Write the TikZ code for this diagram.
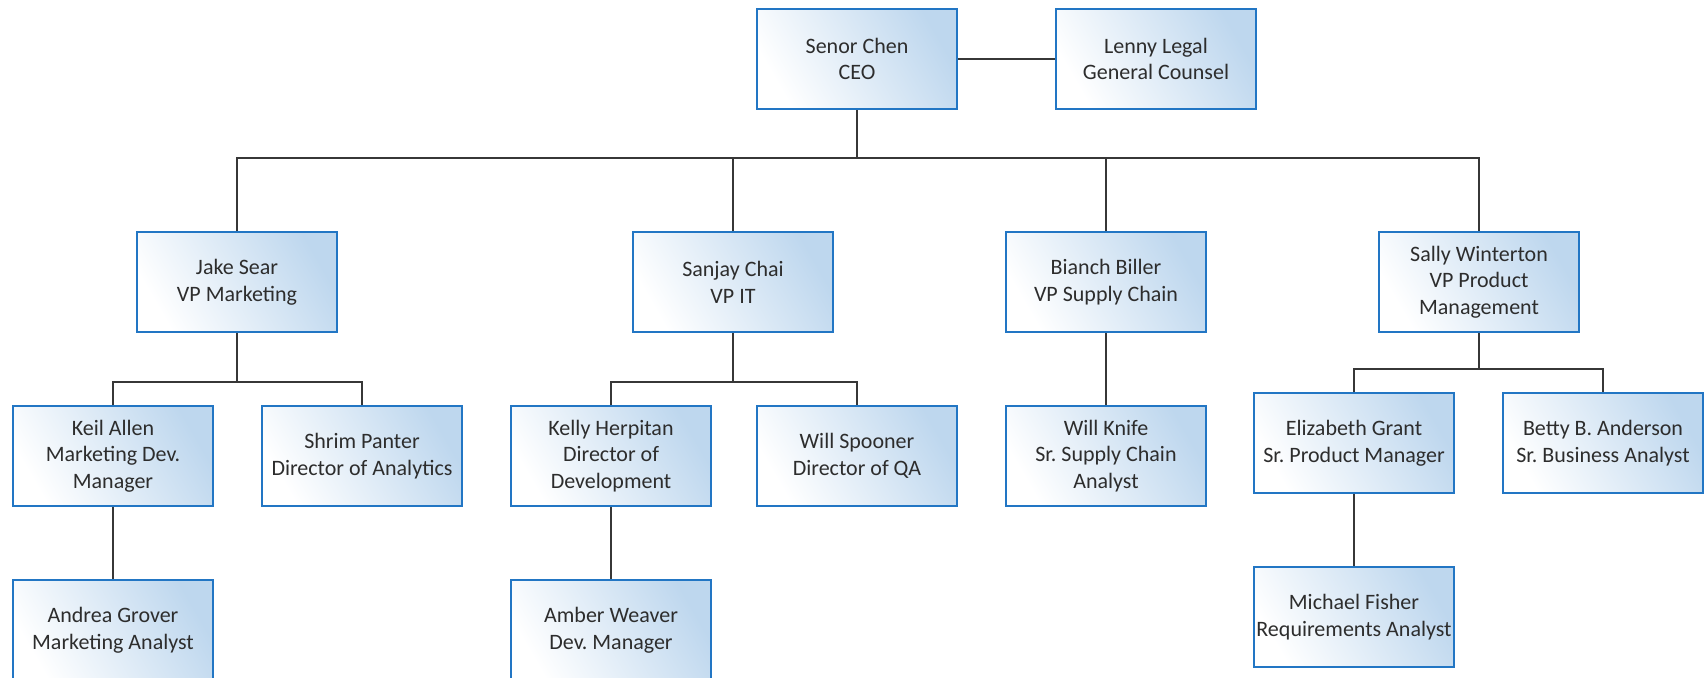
\documentclass[tikz,border=0pt]{standalone}
\usepackage{fontspec}
\setmainfont{Carlito}
\frenchspacing
\definecolor{boxline}{RGB}{34,118,196}
\definecolor{boxtint}{RGB}{190,215,238}
\definecolor{linkgray}{RGB}{55,55,55}
\definecolor{textgray}{RGB}{45,45,45}
\begin{document}
\begin{tikzpicture}[x=0.5pt,y=-0.5pt,
  staff/.style={draw=boxline,line width=1pt,bottom color=white,top color=boxtint,
    shading angle=-60,minimum width=100pt,minimum height=50pt,inner xsep=1pt,
    align=center,text=textgray,font=\fontsize{11}{13.35}\selectfont},
  link/.style={draw=linkgray,line width=0.8pt}]
\useasboundingbox (0,0) rectangle (1708,677);
\clip (0,0) rectangle (1708,677);
% top
\node[staff] (ceo) at (857,59) {Senor Chen\\CEO};
\node[staff] (legal) at (1156,59) {Lenny Legal\\General Counsel};
% vice presidents
\node[staff] (jake) at (237,282) {Jake Sear\\VP Marketing};
\node[staff] (sanjay) at (733,282) {Sanjay Chai\\VP IT};
\node[staff] (bianch) at (1106,282) {Bianch Biller\\VP Supply Chain};
\node[staff] (sally) at (1479,282) {Sally Winterton\\VP Product\\Management};
% third level
\node[staff] (keil) at (113,456) {Keil Allen\\Marketing Dev.\\Manager};
\node[staff] (shrim) at (362,456) {Shrim Panter\\Director of Analytics};
\node[staff] (kelly) at (611,456) {Kelly Herpitan\\Director of\\Development};
\node[staff] (spooner) at (857,456) {Will Spooner\\Director of QA};
\node[staff] (knife) at (1106,456) {Will Knife\\Sr. Supply Chain\\Analyst};
\node[staff] (eliz) at (1354,443) {Elizabeth Grant\\Sr. Product Manager};
\node[staff] (betty) at (1603,443) {Betty B. Anderson\\Sr. Business Analyst};
% fourth level
\node[staff] (andrea) at (113,630) {Andrea Grover\\Marketing Analyst};
\node[staff] (amber) at (611,630) {Amber Weaver\\Dev. Manager};
\node[staff] (michael) at (1354,617) {Michael Fisher\\Requirements Analyst};
% connectors
\coordinate (ceobus) at (857,158);
\coordinate (jakebus) at (237,382);
\coordinate (sanjaybus) at (733,382);
\coordinate (sallybus) at (1479,369);
\draw[link] (ceo.east) -- (legal.west);
\draw[link] (ceo.south) -- (ceobus);
\draw[link] (jake.north) |- (ceobus) -| (sally.north);
\draw[link] (sanjay.north) -- (sanjay.north |- ceobus);
\draw[link] (bianch.north) -- (bianch.north |- ceobus);
\draw[link] (jake.south) -- (jakebus);
\draw[link] (keil.north) |- (jakebus) -| (shrim.north);
\draw[link] (keil.south) -- (andrea.north);
\draw[link] (sanjay.south) -- (sanjaybus);
\draw[link] (kelly.north) |- (sanjaybus) -| (spooner.north);
\draw[link] (kelly.south) -- (amber.north);
\draw[link] (bianch.south) -- (knife.north);
\draw[link] (sally.south) -- (sallybus);
\draw[link] (eliz.north) |- (sallybus) -| (betty.north);
\draw[link] (eliz.south) -- (michael.north);
\end{tikzpicture}
\end{document}
